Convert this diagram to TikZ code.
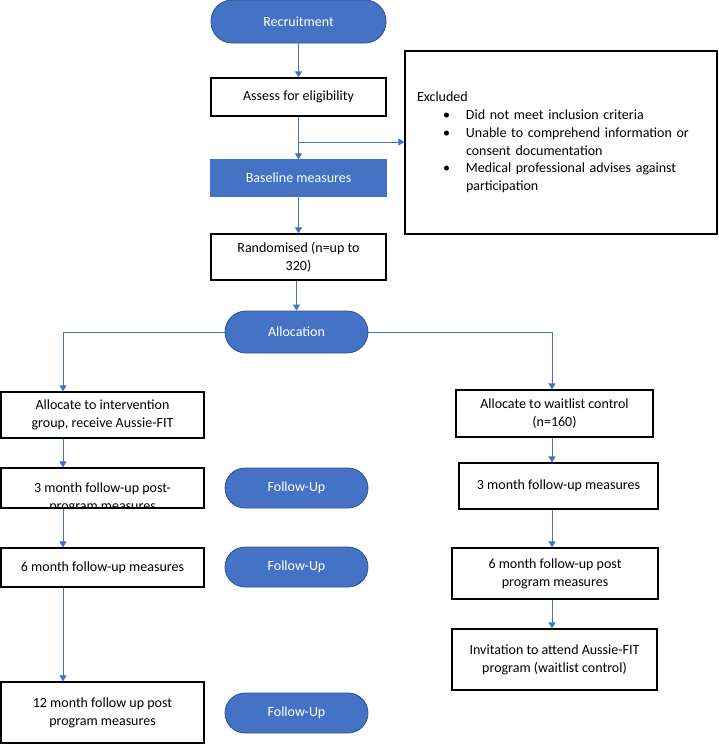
\documentclass[tikz,border=0pt]{standalone}
\usepackage{fontspec}
\setmainfont{Carlito}
\usetikzlibrary{arrows.meta,positioning}
\definecolor{msblue}{HTML}{4472C4}
\definecolor{msedge}{HTML}{2F528F}
\tikzset{
  box/.style={draw=black,line width=1.2pt,align=center,inner sep=2pt},
  pill/.style={draw=msedge,line width=0.8pt,fill=msblue,text=white,
    minimum width=143pt,minimum height=40pt,rounded corners=20pt},
  link/.style={draw=msblue,line width=0.9pt,-{Triangle[width=7pt,length=6pt]}},
}
\begin{document}
\begin{tikzpicture}[x=1pt,y=-1pt,font=\fontsize{14pt}{17.8pt}\selectfont]
\useasboundingbox (0,0) rectangle (718,744);
\coordinate (lcol) at (63,0);
\coordinate (rcol) at (552,0);
% top part
\node (recruit) at (298.5,21.5) [pill,minimum width=175pt,minimum height=43pt,rounded corners=21pt] {Recruitment};
\node (assess) at (298.5,97) [box,minimum width=175pt,minimum height=38pt] {Assess for eligibility};
\node (base) at (298.5,178) [box,draw=msblue,fill=msblue,text=white,minimum width=175pt,minimum height=36pt] {Baseline measures};
\node (rand) at (298.5,257) [box,minimum width=175pt,minimum height=46pt] {Randomised (n=up to\\320)};
\node (excl) at (561,142.5) [box,align=left,minimum width=312pt,minimum height=183pt,text width=288pt,inner xsep=12pt] {Excluded\\
\hspace*{26pt}\makebox[23pt][l]{\textbullet}Did not meet inclusion criteria\\
\hspace*{26pt}\makebox[23pt][l]{\textbullet}Unable to comprehend information or\\
\hspace*{49pt}consent documentation\\
\hspace*{26pt}\makebox[23pt][l]{\textbullet}Medical professional advises against\\
\hspace*{49pt}participation};
\node (alloc) at (296.5,332) [pill,minimum height=42pt,rounded corners=21pt] {Allocation};
% intervention arm
\node (interv) at (102.5,415) [box,minimum width=203pt,minimum height=46pt] {Allocate to intervention\\group, receive Aussie-FIT};
\node (three) at (102.5,488) [box,minimum width=203pt,minimum height=40pt] {};
\begin{scope}
  \clip (three.north west) rectangle ([yshift=1pt]three.south east);
  \node (threetxt) at (102.5,498) [align=center] {3 month follow-up post-\\program measures};
\end{scope}
\node (six) at (102.5,567.5) [box,minimum width=203pt,minimum height=39pt] {6 month follow-up measures};
\node (twelve) at (102.5,712.5) [box,minimum width=203pt,minimum height=61pt] {12 month follow up post\\program measures};
% follow-up markers
\node (fuA) at (296.5,488) [pill] {Follow-Up};
\node (fuB) at (296.5,567) [pill] {Follow-Up};
\node (fuC) at (296.5,713) [pill] {Follow-Up};
% waitlist arm
\node (wait) at (554.5,413.5) [box,minimum width=197pt,minimum height=47pt] {Allocate to waitlist control\\(n=160)};
\node (wthree) at (558.5,486) [box,minimum width=199pt,minimum height=46pt] {3 month follow-up measures};
\node (wsix) at (555,573.5) [box,minimum width=206pt,minimum height=51pt] {6 month follow-up post\\program measures};
\node (invite) at (554.5,659.5) [box,minimum width=205pt,minimum height=61pt] {Invitation to attend Aussie-FIT\\program (waitlist control)};
% connectors
\coordinate (split) at (298.5,142);
\draw [link] (recruit) -- (assess);
\draw [link] (assess) -- (base);
\draw [link] (split) -- (split -| excl.west);
\draw [link] (base) -- (rand);
\draw [link] (rand.south -| alloc.north) -- (alloc.north);
\draw [link] (alloc.west) -| (interv.north -| lcol);
\draw [link] (alloc.east) -| (wait.north -| rcol);
\draw [link] (interv.south -| lcol) -- (three.north -| lcol);
\draw [link] (three.south -| lcol) -- (six.north -| lcol);
\draw [link] (six.south -| lcol) -- (twelve.north -| lcol);
\draw [link] (wait.south -| rcol) -- (wthree.north -| rcol);
\draw [link] (wthree.south -| rcol) -- (wsix.north -| rcol);
\draw [link] (wsix.south -| rcol) -- (invite.north -| rcol);
\end{tikzpicture}
\end{document}
